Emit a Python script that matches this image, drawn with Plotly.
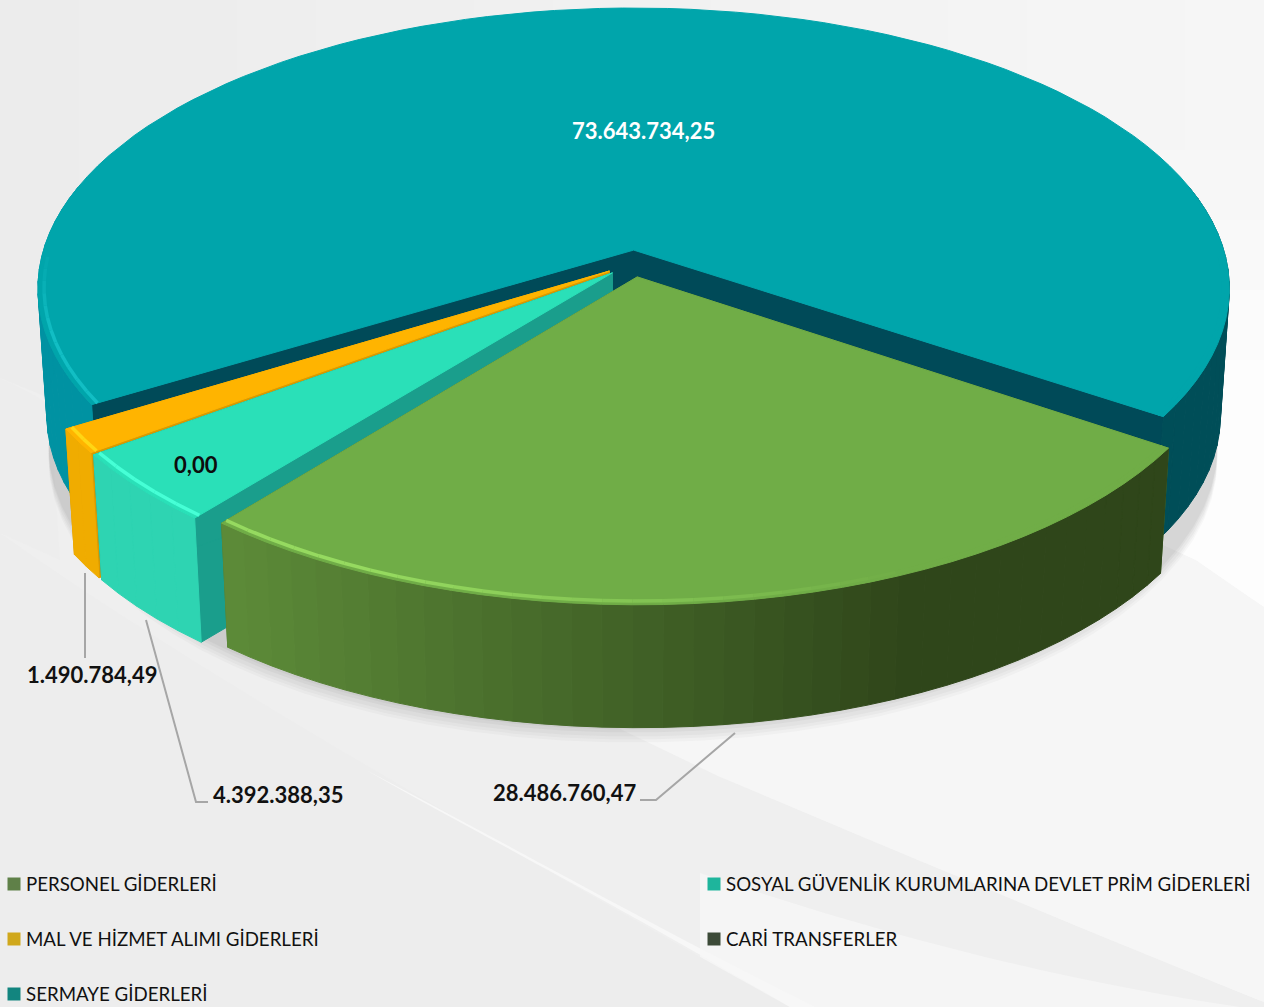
import math
import plotly.graph_objects as go

categories = ["PERSONEL GİDERLERİ", "SOSYAL GÜVENLİK KURUMLARINA DEVLET PRİM GİDERLERİ",
              "MAL VE HİZMET ALIMI GİDERLERİ", "CARİ TRANSFERLER", "SERMAYE GİDERLERİ"]
values = [28486760.47, 4392388.35, 1490784.49, 0.00, 73643734.25]
start_angle = 34.0

W, H = 1264, 1007
CX, CY, A, B, K = 633.0, 263.5, 587.0, 278.8, 0.1374
DEPTH, BOTTOM_SCALE, EXPLODE = 128.0, 0.985, 0.0484
x_stretch = [1.0, 1.0, 1.0, 1.0, 1.012]

top_colors = ["#70ad47", "#2ae0b8", "#ffb400", "#44546a", "#00a5ab"]
top_rgb = [(112, 173, 71), (42, 224, 184), (255, 180, 0), (68, 84, 106), (0, 165, 171)]
rim_rgb = [(150, 218, 96), (70, 255, 214), (255, 214, 20), (68, 84, 106), (18, 190, 196)]
inner_colors = ["#4f7a30", "#1a9e8c", "#d99a00", "#333333", "#004a58"]
wall_grad = [((47, 70, 26), (92, 138, 56)), ((30, 190, 155), (46, 212, 178)),
             ((245, 176, 0), (240, 172, 0)), ((60, 60, 60), (60, 60, 60)), ((0, 78, 88), (0, 146, 162))]
legend_colors = ["#5f8048", "#1eb59c", "#d0a81c", "#3c4a38", "#12857f"]


def tr_fmt(v):
    s = f"{v:,.2f}"
    return s.replace(",", "X").replace(".", ",").replace("X", ".")


def proj(x, z, bottom=False):
    s = 1.0 / (1.0 - K * z)
    px, py = A * x * s, B * z * s
    if bottom:
        return CX + px * BOTTOM_SCALE, CY + py * BOTTOM_SCALE + DEPTH
    return CX + px, CY + py


def mix(c0, c1, f):
    f = max(0.0, min(1.0, f))
    return "rgb(%d,%d,%d)" % tuple(round(a + (b - a) * f) for a, b in zip(c0, c1))


fig = go.Figure()


def poly(pts, color, opacity=1.0, lw=1.0):
    xs = [p[0] for p in pts] + [pts[0][0]]
    ys = [p[1] for p in pts] + [pts[0][1]]
    fig.add_trace(go.Scatter(x=xs, y=ys, mode="lines", fill="toself", fillcolor=color, opacity=opacity,
                             line=dict(color=color, width=lw), hoverinfo="skip", showlegend=False))


def line(pts, color, width, opacity=1.0):
    fig.add_trace(go.Scatter(x=[p[0] for p in pts], y=[p[1] for p in pts], mode="lines", opacity=opacity,
                             line=dict(color=color, width=width), hoverinfo="skip", showlegend=False))


total = sum(values)
slices = []
angle = start_angle
for i, v in enumerate(values):
    sweep = v / total * 360.0
    slices.append((i, angle, angle + sweep))
    angle += sweep

# soft shadow beneath the pie
for shift, op in ((16, 0.04), (13, 0.05), (10, 0.06), (6, 0.07), (3, 0.08)):
    pts = [proj(0.995 * math.cos(math.radians(t)), 0.045 + 1.0 * math.sin(math.radians(t)), True) for t in range(0, 360, 4)]
    poly([(x, y + shift) for x, y in pts], "#707070", op, 0)


def draw(i, a0, a1):
    mid = math.radians((a0 + a1) / 2)
    ox, oz = EXPLODE * math.cos(mid), EXPLODE * math.sin(mid)
    xs = x_stretch[i]
    rim = lambda t, r=1.0: (ox + r * xs * math.cos(math.radians(t)), oz + r * math.sin(math.radians(t)))
    n = max(2, int((a1 - a0) / 2.5))
    ts = [a0 + (a1 - a0) * j / n for j in range(n + 1)]
    # radial walls
    for edge in (a0, a1):
        x, z = rim(edge)
        poly([proj(ox, oz), proj(x, z), proj(x, z, True), proj(ox, oz, True)], inner_colors[i])
    # outer wall as shaded strips
    c0, c1 = wall_grad[i]
    for t0, t1 in zip(ts, ts[1:]):
        tm = (t0 + t1) / 2
        if math.sin(math.radians(tm)) < -0.25:
            continue
        f = (1 - math.cos(math.radians(tm))) / 2
        p0, p1 = rim(t0), rim(t1)
        poly([proj(*p0), proj(*p1), proj(*p1, True), proj(*p0, True)], mix(c0, c1, (f - 0.3) / 0.5))
    # top
    poly([proj(ox, oz)] + [proj(*rim(t)) for t in ts], top_colors[i])
    # bevel highlight, stronger on the left of the front edge, fading at the ends
    for t0, t1 in zip(ts, ts[1:]):
        tm = (t0 + t1) / 2
        st = math.sin(math.radians(tm))
        if st < 0.02:
            continue
        f = (1 - math.cos(math.radians(tm))) / 2
        strength = min(1.0, (f - 0.3) / 0.4) * min(1.0, st / 0.3)
        col = mix(top_rgb[i], rim_rgb[i], strength)
        line([proj(*rim(t0, 0.99)), proj(*rim(t1, 0.99))], col, 3.5)


for idx in (4, 3, 2, 1, 0):
    if values[idx] > 0:
        draw(*slices[idx])

# leader lines
line([(85, 573), (85, 658)], "#a6a6a6", 2)
line([(146, 620), (196, 802), (208, 802)], "#a6a6a6", 2)
line([(735, 733), (656, 800), (640, 800)], "#a6a6a6", 2)

FONT = "Lato, Carlito, 'Open Sans', sans-serif"
data_labels = [(564, 792, 0, "#111111"), (278, 794, 1, "#111111"), (92, 674, 2, "#111111"),
               (196, 464, 3, "#0d0d0d"), (643, 130, 4, "#ffffff")]
annotations = [dict(x=x, y=y, text=f"<b>{tr_fmt(values[i])}</b>", showarrow=False, xref="x", yref="y",
                    font=dict(family=FONT, size=22, color=c)) for x, y, i, c in data_labels]

legend_pos = [(14, 884), (714, 884), (14, 939), (714, 939), (14, 994)]
for (x, y), name, c in zip(legend_pos, categories, legend_colors):
    fig.add_trace(go.Scatter(x=[x], y=[y], mode="markers", marker=dict(symbol="square", size=13, color=c),
                             hoverinfo="skip", showlegend=False))
    annotations.append(dict(x=x + 10, y=y, text=name, showarrow=False, xanchor="left", xref="x", yref="y",
                            font=dict(family=FONT, size=18.7, color="#111111")))

# background: horizontal gradient plus the pale swooshes
steps = 16
shapes = []
for s in range(steps):
    shade = round(236 + (246 - 236) * s / (steps - 1))
    shapes.append(dict(type="rect", x0=W * s / steps, x1=W * (s + 1) / steps + 1, y0=0, y1=H,
                       fillcolor=f"rgb({shade},{shade},{shade})", line_width=0, layer="below"))
for y0, col in ((150, "#f7f7f7"), (220, "#f9f9f9"), (290, "#fbfbfb"), (360, "#fdfdfd")):
    shapes.append(dict(type="path", path=f"M 1000 {y0} L 1264 {y0} L 1264 607 L 1196 560 L 1000 470 Z",
                       fillcolor=col, line_width=0, layer="below"))
bg_paths = [
    ("M 0 378 C 300 500 600 640 718 776 C 880 844 1060 920 1264 1002 L 1264 1007 L 0 1007 Z", "#efefef"),
    ("M 560 600 L 1150 545 C 1196 560 1230 585 1264 607 L 1264 1002 C 1060 920 880 844 718 776 L 560 700 Z", "#f6f6f6"),
    ("M 0 378 C 15 385 30 392 50 405 L 60 560 L 0 533 Z", "#ededed"),
    ("M 700 873 C 880 934 1060 981 1240 1007 L 700 1007 Z", "#f5f5f5"),
    ("M 0 533 C 150 640 400 790 790 1007 L 0 1007 Z", "#ededed"),
]
for path, col in bg_paths:
    shapes.append(dict(type="path", path=path, fillcolor=col, line_width=0, layer="below"))
shapes.append(dict(type="path", path="M 366 770 C 480 835 600 895 790 1007 L 815 1007 C 650 925 500 840 366 770 Z",
                   fillcolor="#f7f7f7", line_width=0, layer="below"))

fig.update_layout(
    width=W, height=H, margin=dict(l=0, r=0, t=0, b=0), showlegend=False,
    paper_bgcolor="#efefef", plot_bgcolor="rgba(0,0,0,0)",
    xaxis=dict(range=[0, W], visible=False, fixedrange=True),
    yaxis=dict(range=[H, 0], visible=False, fixedrange=True),
    annotations=annotations, shapes=shapes,
)
fig.write_html("out.html", config={"displayModeBar": False},
               post_script="document.body.style.margin='0';document.body.style.overflow='hidden';")
